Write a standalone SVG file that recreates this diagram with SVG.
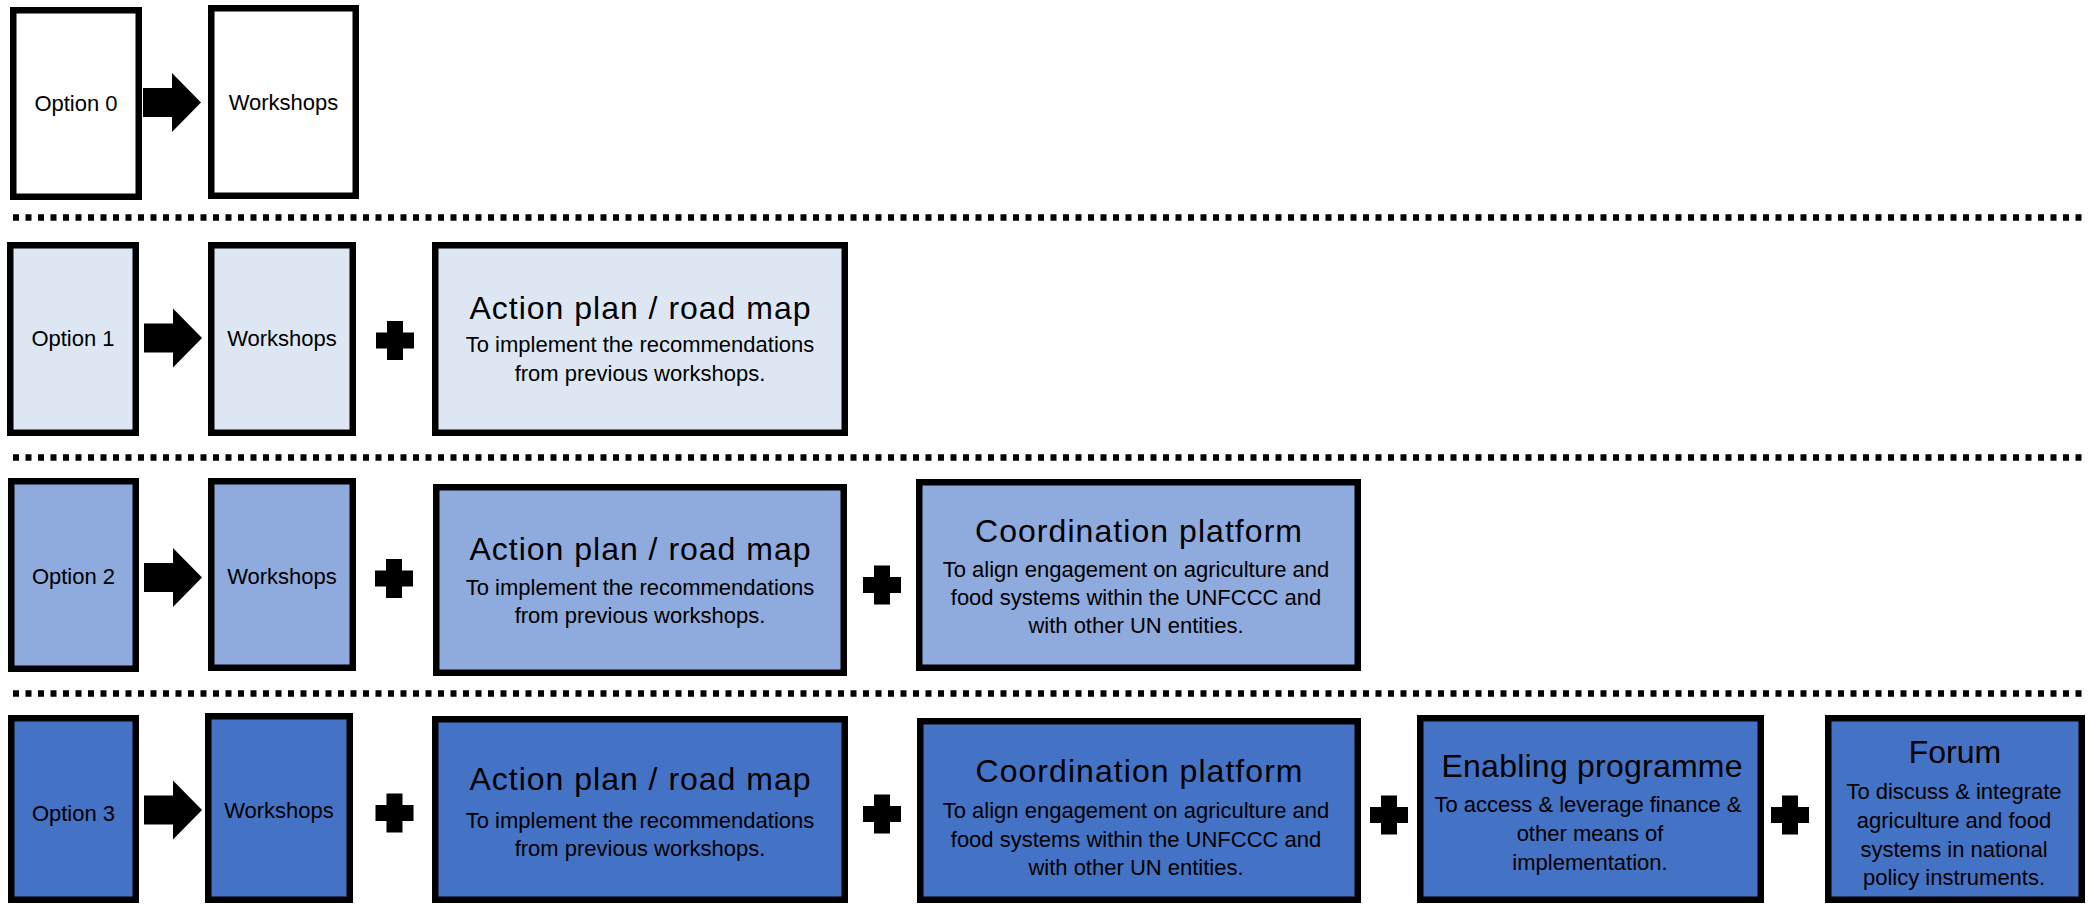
<svg xmlns="http://www.w3.org/2000/svg" xmlns:xlink="http://www.w3.org/1999/xlink" width="2098" height="904" viewBox="0 0 2098 904">
<style>
.box{stroke:#000;stroke-width:6.5}
.r0{fill:#FFFFFF}
.r1{fill:#DDE7F4}
.r2{fill:#8FAADC}
.r3{fill:#4472C4}
text{font-family:"Liberation Sans",Arial,sans-serif;fill:#000;text-anchor:middle}
.t{font-size:22px}
.h{font-size:32px}
.sep{stroke:#000;stroke-width:6.5;stroke-dasharray:6 6.5;fill:none}
.sym{fill:#000}
</style>
<defs>
<path id="arrow" d="M0,-14.5 H29 V-29.5 L58,0 L29,29.5 V14.5 H0 Z"/>
<path id="plus" d="M-8,-19.5 H8 V-8 H19 V8 H8 V19.5 H-8 V8 H-19 V-8 H-8 Z"/>
</defs>
<rect width="2098" height="904" fill="#FFFFFF"/>
<g id="separators">
<line class="sep" x1="13" y1="217.5" x2="2086" y2="217.5"/>
<line class="sep" x1="13" y1="457.5" x2="2086" y2="457.5"/>
<line class="sep" x1="13" y1="693.5" x2="2086" y2="693.5"/>
</g>
<g id="opt0"><rect class="box r0" x="13.25" y="10.25" width="125.5" height="186.5"/><text class="t" x="76" y="111">Option 0</text></g>
<g id="ws0"><rect class="box r0" x="211.25" y="8.25" width="144.5" height="187.5"/><text class="t" x="283.5" y="110">Workshops</text></g>
<g id="opt1"><rect class="box r1" x="10.25" y="245.25" width="125.5" height="187.5"/><text class="t" x="73" y="346">Option 1</text></g>
<g id="ws1"><rect class="box r1" x="211.25" y="245.25" width="141.5" height="187.5"/><text class="t" x="282" y="346">Workshops</text></g>
<g id="ap1"><rect class="box r1" x="435.25" y="245.25" width="409.5" height="187.5"/>
<text class="h" x="640" y="319" textLength="341" lengthAdjust="spacing">Action plan / road map</text>
<text class="t" x="640" y="352">To implement the recommendations</text>
<text class="t" x="640" y="381">from previous workshops.</text></g>
<g id="opt2"><rect class="box r2" x="11.25" y="481.25" width="124.5" height="187.5"/><text class="t" x="73.5" y="584">Option 2</text></g>
<g id="ws2"><rect class="box r2" x="211.25" y="481.25" width="141.5" height="186.5"/><text class="t" x="282" y="584">Workshops</text></g>
<g id="ap2"><rect class="box r2" x="436.25" y="487.25" width="407.5" height="185.5"/>
<text class="h" x="640" y="560" textLength="341" lengthAdjust="spacing">Action plan / road map</text>
<text class="t" x="640" y="595">To implement the recommendations</text>
<text class="t" x="640" y="623">from previous workshops.</text></g>
<g id="cp2"><rect class="box r2" x="919.25" y="482.25" width="438.5" height="185.5"/>
<text class="h" x="1138.5" y="542" textLength="327" lengthAdjust="spacing">Coordination platform</text>
<text class="t" x="1136" y="577">To align engagement on agriculture and</text>
<text class="t" x="1136" y="605">food systems within the UNFCCC and</text>
<text class="t" x="1136" y="633">with other UN entities.</text></g>
<g id="opt3"><rect class="box r3" x="11.25" y="718.25" width="124.5" height="181.5"/><text class="t" x="73.5" y="821">Option 3</text></g>
<g id="ws3"><rect class="box r3" x="208.25" y="716.25" width="141.5" height="183.5"/><text class="t" x="279" y="818">Workshops</text></g>
<g id="ap3"><rect class="box r3" x="435.25" y="719.25" width="409.5" height="180.5"/>
<text class="h" x="640" y="790" textLength="341" lengthAdjust="spacing">Action plan / road map</text>
<text class="t" x="640" y="828">To implement the recommendations</text>
<text class="t" x="640" y="856">from previous workshops.</text></g>
<g id="cp3"><rect class="box r3" x="920.25" y="721.25" width="437.5" height="178.5"/>
<text class="h" x="1139" y="782" textLength="327" lengthAdjust="spacing">Coordination platform</text>
<text class="t" x="1136" y="818">To align engagement on agriculture and</text>
<text class="t" x="1136" y="847">food systems within the UNFCCC and</text>
<text class="t" x="1136" y="875">with other UN entities.</text></g>
<g id="ep3"><rect class="box r3" x="1420.25" y="718.25" width="340.5" height="181.5"/>
<text class="h" x="1592" y="777" textLength="301" lengthAdjust="spacing">Enabling programme</text>
<text class="t" x="1588" y="812">To access &amp; leverage finance &amp;</text>
<text class="t" x="1590" y="841">other means of</text>
<text class="t" x="1590" y="870">implementation.</text></g>
<g id="fo3"><rect class="box r3" x="1828.25" y="718.25" width="253.5" height="181.5"/>
<text class="h" x="1955" y="763">Forum</text>
<text class="t" x="1954" y="799">To discuss &amp; integrate</text>
<text class="t" x="1954" y="828">agriculture and food</text>
<text class="t" x="1954" y="857">systems in national</text>
<text class="t" x="1954" y="885">policy instruments.</text></g>
<g id="connectors" class="sym">
<use xlink:href="#arrow" href="#arrow" transform="translate(143,102.5)"/>
<use xlink:href="#arrow" href="#arrow" transform="translate(144,338)"/>
<use xlink:href="#arrow" href="#arrow" transform="translate(144,577.5)"/>
<use xlink:href="#arrow" href="#arrow" transform="translate(144,810)"/>
<use xlink:href="#plus" href="#plus" transform="translate(395,340.5)"/>
<use xlink:href="#plus" href="#plus" transform="translate(394,578.5)"/>
<use xlink:href="#plus" href="#plus" transform="translate(882,585)"/>
<use xlink:href="#plus" href="#plus" transform="translate(394.5,813)"/>
<use xlink:href="#plus" href="#plus" transform="translate(882,814)"/>
<use xlink:href="#plus" href="#plus" transform="translate(1389,815)"/>
<use xlink:href="#plus" href="#plus" transform="translate(1790,815)"/>
</g>
</svg>
